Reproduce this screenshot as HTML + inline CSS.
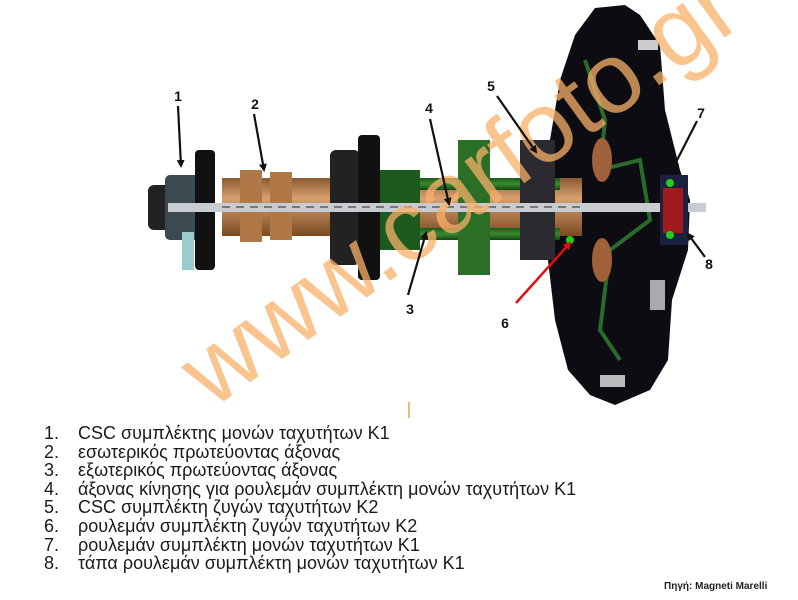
<!DOCTYPE html>
<html><head><meta charset="utf-8"><style>
html,body{margin:0;padding:0;background:#fff;}
#w{position:relative;width:798px;height:600px;overflow:hidden;background:#fff;font-family:"Liberation Sans",Arial,sans-serif;}
.list{position:absolute;left:44px;top:424px;font-size:18px;line-height:18.6px;color:#1a1a1a;}
.list div span{display:inline-block;width:34px;}
.src{position:absolute;left:664px;top:581px;font-size:10px;font-weight:bold;color:#222;}
</style></head><body><div id="w">
<svg width="798" height="600" style="position:absolute;left:0;top:0">
<defs>
<linearGradient id="cu" x1="0" y1="0" x2="0" y2="1"><stop offset="0" stop-color="#8a5a30"/><stop offset=".35" stop-color="#d7a070"/><stop offset="1" stop-color="#7a4a22"/></linearGradient>
<linearGradient id="gr" x1="0" y1="0" x2="0" y2="1"><stop offset="0" stop-color="#1d5a1d"/><stop offset=".5" stop-color="#3a8a30"/><stop offset="1" stop-color="#154515"/></linearGradient>
<marker id="ab" markerWidth="8" markerHeight="8" refX="6" refY="4" orient="auto" markerUnits="userSpaceOnUse"><path d="M0,0 L8,4 L0,8 z" fill="#111"/></marker>
<marker id="ar" markerWidth="8" markerHeight="8" refX="6" refY="4" orient="auto" markerUnits="userSpaceOnUse"><path d="M0,0 L8,4 L0,8 z" fill="#e01010"/></marker>
</defs>
<path d="M595,8 L625,5 L640,15 L660,45 L665,110 L680,170 L690,200 L688,250 L672,300 L668,360 L650,390 L615,405 L590,395 L568,370 L555,320 L548,260 L546,200 L550,140 L560,80 L575,35 Z" fill="#0c0c12"/>
<path d="M585,60 L605,120 L600,170 L640,160 L650,220 L610,250 L600,330 L620,360" stroke="#2a6a2a" stroke-width="4" fill="none"/>
<ellipse cx="602" cy="160" rx="10" ry="22" fill="#a0603a"/><ellipse cx="602" cy="260" rx="10" ry="22" fill="#a0603a"/>
<rect x="638" y="40" width="20" height="10" fill="#ccc"/><rect x="600" y="375" width="25" height="12" fill="#bbb"/>
<rect x="650" y="280" width="15" height="30" fill="#aaa"/>
<rect x="148" y="185" width="30" height="45" rx="6" fill="#222"/>
<rect x="165" y="175" width="35" height="65" rx="5" fill="#3a4a50"/>
<rect x="195" y="150" width="20" height="120" rx="4" fill="#111"/>
<rect x="182" y="232" width="12" height="38" fill="#9cc"/>
<rect x="222" y="178" width="360" height="58" fill="url(#cu)"/>
<rect x="240" y="170" width="22" height="72" fill="#b07846"/><rect x="270" y="172" width="22" height="68" fill="#b07846"/>
<rect x="330" y="150" width="30" height="115" rx="6" fill="#222"/>
<rect x="358" y="135" width="22" height="145" rx="4" fill="#111"/>
<rect x="380" y="178" width="180" height="12" fill="url(#gr)"/>
<rect x="380" y="228" width="180" height="12" fill="url(#gr)"/>
<rect x="380" y="170" width="40" height="80" fill="#1e5a1e"/>
<rect x="458" y="140" width="32" height="135" fill="#2b6e25"/>
<rect x="520" y="140" width="35" height="120" fill="#2a2a30"/>
<rect x="168" y="203" width="538" height="9" fill="#c8ccd0"/>
<path d="M222,207 L580,207" stroke="#777" stroke-width="2" stroke-dasharray="8 6"/>
<rect x="660" y="175" width="28" height="70" fill="#1a2240"/>
<rect x="663" y="188" width="20" height="45" fill="#a01a20"/>
<circle cx="670" cy="183" r="4" fill="#2c2"/><circle cx="670" cy="235" r="4" fill="#2c2"/>
<circle cx="570" cy="240" r="4" fill="#2c2"/>
<text x="0" y="0" transform="translate(212,410) rotate(-36)" font-family="Liberation Sans,sans-serif" font-size="100" textLength="660" lengthAdjust="spacingAndGlyphs" fill="#f8b06a" fill-opacity="0.75">www.carfoto.gr</text>
<g stroke="#111" stroke-width="2.2" fill="none">
<line x1="178" y1="106" x2="181" y2="166" marker-end="url(#ab)"/>
<line x1="254" y1="114" x2="264" y2="170" marker-end="url(#ab)"/>
<line x1="408" y1="295" x2="426" y2="233" marker-end="url(#ab)"/>
<line x1="430" y1="119" x2="449" y2="204" marker-end="url(#ab)"/>
<line x1="497" y1="96" x2="536" y2="152" marker-end="url(#ab)"/>
<line x1="697" y1="121" x2="673" y2="168" marker-end="url(#ab)"/>
<line x1="705" y1="257" x2="688" y2="234" marker-end="url(#ab)"/>
</g>
<line x1="516" y1="303" x2="570" y2="243" stroke="#e01010" stroke-width="2.5" marker-end="url(#ar)"/>
<g font-family="Liberation Sans,sans-serif" font-weight="bold" font-size="14" fill="#111" text-anchor="middle">
<text x="178" y="101">1</text><text x="255" y="109">2</text><text x="410" y="314">3</text><text x="429" y="113">4</text>
<text x="491" y="91">5</text><text x="505" y="328">6</text><text x="701" y="118">7</text><text x="709" y="269">8</text>
</g>
<line x1="409" y1="402" x2="409" y2="418" stroke="#f0a050" stroke-width="1.5"/>
</svg>
<div class="list">
<div><span>1.</span>CSC συμπλέκτης μονών ταχυτήτων Κ1</div>
<div><span>2.</span>εσωτερικός πρωτεύοντας άξονας</div>
<div><span>3.</span>εξωτερικός πρωτεύοντας άξονας</div>
<div><span>4.</span>άξονας κίνησης για ρουλεμάν συμπλέκτη μονών ταχυτήτων Κ1</div>
<div><span>5.</span>CSC συμπλέκτη ζυγών ταχυτήτων Κ2</div>
<div><span>6.</span>ρουλεμάν συμπλέκτη ζυγών ταχυτήτων Κ2</div>
<div><span>7.</span>ρουλεμάν συμπλέκτη μονών ταχυτήτων Κ1</div>
<div><span>8.</span>τάπα ρουλεμάν συμπλέκτη μονών ταχυτήτων Κ1</div>
</div>
<div class="src">Πηγή: Magneti Marelli</div>
</div></body></html>
